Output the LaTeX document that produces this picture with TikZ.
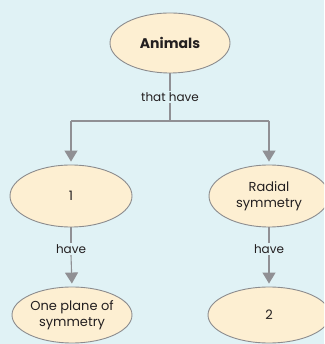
\documentclass[tikz,border=0pt]{standalone}
\usepackage{fontspec}
\setmainfont{Poppins}
\usetikzlibrary{arrows.meta,shapes.geometric}
\definecolor{bgc}{HTML}{E0F2F5}
\definecolor{fillc}{HTML}{FDEFD2}
\definecolor{edgec}{HTML}{8C8C8E}
\definecolor{linec}{HTML}{909094}
\definecolor{txtc}{HTML}{231F20}
\tikzset{
  concept/.style={ellipse, draw=edgec, line width=0.9pt, fill=fillc, text=txtc,
    inner sep=0pt, align=center, font=\fontsize{13}{15.5}\selectfont},
  linklabel/.style={text=txtc, inner sep=1.5pt, font=\fontsize{12}{14}\selectfont, fill=bgc},
  conn/.style={draw=linec, line width=1.1pt},
  arr/.style={conn, -{Triangle[width=13pt,length=11pt]}, shorten >=3pt},
}
\begin{document}
\begin{tikzpicture}[x=1pt,y=1pt]
\useasboundingbox (0,0) rectangle (324,344);
\fill[bgc] (0,0) rectangle (324,344);
\clip (0,0) rectangle (324,344);
\node[concept, minimum width=120pt, minimum height=60pt, font=\fontsize{14}{17}\selectfont\bfseries] (A) at (170,301) {Animals};
\node[concept, minimum width=122pt, minimum height=62pt] (L1) at (71,148) {1};
\node[concept, minimum width=120pt, minimum height=62pt] (R1) at (269,148) {Radial\\symmetry};
\node[concept, minimum width=120pt, minimum height=56pt] (L2) at (72,29) {One plane of\\symmetry};
\node[concept, minimum width=122pt, minimum height=56pt] (R2) at (269,29) {2};
\node[linklabel] (th) at (170,247) {that have};
\node[linklabel] (hl) at (71,95) {have};
\node[linklabel] (hr) at (269,95) {have};
\coordinate (j) at (170,223);
\coordinate (jl) at (71,223);
\coordinate (jr) at (269,223);
\draw[conn] (A.south) -- (th.north);
\draw[conn] (th.south) -- (j);
\draw[conn] (jl) -- (jr);
\draw[arr] (jl) -- (L1.north);
\draw[arr] (jr) -- (R1.north);
\draw[conn] (L1.south) -- (hl.north);
\draw[arr] (hl.south) -- (L2.north);
\draw[conn] (R1.south) -- (hr.north);
\draw[arr] (hr.south) -- (R2.north);
\end{tikzpicture}
\end{document}
